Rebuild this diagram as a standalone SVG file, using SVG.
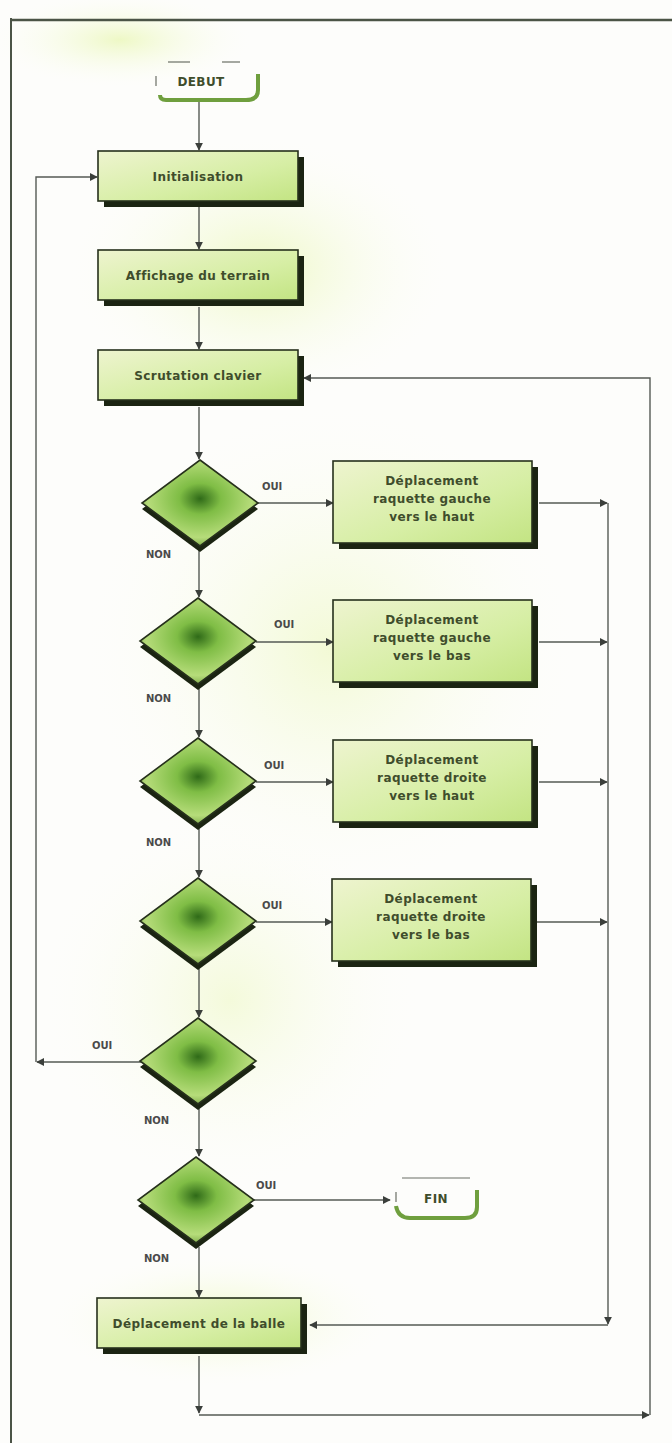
<svg xmlns="http://www.w3.org/2000/svg" width="672" height="1443" viewBox="0 0 672 1443">
  <style>
    .face { stroke: #26301c; stroke-width: 1.6; }
    .shadow { fill: #1b2412; }
    .txt { font-family: "DejaVu Sans", "Liberation Sans", sans-serif; font-weight: bold; font-size: 12px; letter-spacing: 0.4px; fill: #3f4d2c; text-anchor: middle; }
    .lbl { font-family: "DejaVu Sans", "Liberation Sans", sans-serif; font-weight: bold; font-size: 10px; fill: #4a4a4a; }
    .wire { fill: none; stroke: #555a55; stroke-width: 1.4; }
    .frame { fill: none; stroke: #4b5446; }
  </style>
  <defs>
    <linearGradient id="boxFill" x1="0" y1="0" x2="1" y2="1">
      <stop offset="0" stop-color="#eef4cf"/>
      <stop offset="0.6" stop-color="#d6eea4"/>
      <stop offset="1" stop-color="#c3e483"/>
    </linearGradient>
    <radialGradient id="diaFill" cx="0.5" cy="0.45" r="0.6">
      <stop offset="0" stop-color="#2f6a18"/>
      <stop offset="0.3" stop-color="#7fbd45"/>
      <stop offset="0.75" stop-color="#b6dc7a"/>
      <stop offset="1" stop-color="#6f9d3c"/>
    </radialGradient>
    <radialGradient id="haze" cx="0.5" cy="0.5" r="0.5">
      <stop offset="0" stop-color="#eaf7b8" stop-opacity="0.8"/>
      <stop offset="1" stop-color="#ffffff" stop-opacity="0"/>
    </radialGradient>
    <marker id="arr" viewBox="0 0 10 10" refX="9" refY="5" markerWidth="8" markerHeight="8" orient="auto" markerUnits="userSpaceOnUse">
      <path d="M0,0 L10,5 L0,10 z" fill="#3b3f3b"/>
    </marker>
  </defs>

  <!-- paper and soft tint -->
  <rect width="672" height="1443" fill="#fdfdfb"/>
  <ellipse cx="120" cy="40" rx="140" ry="50" fill="url(#haze)"/>
  <ellipse cx="260" cy="270" rx="200" ry="140" fill="url(#haze)"/>
  <ellipse cx="330" cy="650" rx="260" ry="260" fill="url(#haze)" opacity="0.7"/>
  <ellipse cx="230" cy="1000" rx="200" ry="200" fill="url(#haze)" opacity="0.6"/>
  <ellipse cx="220" cy="1320" rx="180" ry="70" fill="url(#haze)"/>

  <!-- page frame -->
  <line class="frame" x1="11" y1="20" x2="672" y2="20" stroke-width="2.5"/>
  <line class="frame" x1="11" y1="18" x2="11" y2="1443" stroke-width="2"/>

  <!-- connectors -->
  <g id="connectors">
    <line class="wire" x1="199" y1="102" x2="199" y2="150" marker-end="url(#arr)"/>
    <line class="wire" x1="199" y1="207" x2="199" y2="249" marker-end="url(#arr)"/>
    <line class="wire" x1="199" y1="307" x2="199" y2="349" marker-end="url(#arr)"/>
    <line class="wire" x1="199" y1="407" x2="199" y2="459" marker-end="url(#arr)"/>
    <line class="wire" x1="199" y1="549" x2="199" y2="597" marker-end="url(#arr)"/>
    <line class="wire" x1="199" y1="689" x2="199" y2="737" marker-end="url(#arr)"/>
    <line class="wire" x1="199" y1="829" x2="199" y2="877" marker-end="url(#arr)"/>
    <line class="wire" x1="199" y1="969" x2="199" y2="1017" marker-end="url(#arr)"/>
    <line class="wire" x1="199" y1="1109" x2="199" y2="1156" marker-end="url(#arr)"/>
    <line class="wire" x1="199" y1="1247" x2="199" y2="1297" marker-end="url(#arr)"/>

    <!-- OUI branches to the paddle moves -->
    <line class="wire" x1="258" y1="503" x2="333" y2="503" marker-end="url(#arr)"/>
    <line class="wire" x1="256" y1="642" x2="333" y2="642" marker-end="url(#arr)"/>
    <line class="wire" x1="256" y1="782" x2="333" y2="782" marker-end="url(#arr)"/>
    <line class="wire" x1="256" y1="922" x2="332" y2="922" marker-end="url(#arr)"/>

    <!-- paddle moves join the collector line -->
    <line class="wire" x1="539" y1="503" x2="607" y2="503" marker-end="url(#arr)"/>
    <line class="wire" x1="539" y1="642" x2="607" y2="642" marker-end="url(#arr)"/>
    <line class="wire" x1="539" y1="782" x2="607" y2="782" marker-end="url(#arr)"/>
    <line class="wire" x1="537" y1="922" x2="607" y2="922" marker-end="url(#arr)"/>
    <line class="wire" x1="608" y1="503" x2="608" y2="1324" marker-end="url(#arr)"/>
    <line class="wire" x1="608" y1="1325" x2="310" y2="1325" marker-end="url(#arr)"/>

    <!-- back to initialisation -->
    <polyline class="wire" points="142,1062 37,1062" marker-end="url(#arr)"/>
    <polyline class="wire" points="36,1062 36,177 97,177" marker-end="url(#arr)"/>

    <!-- to end -->
    <line class="wire" x1="254" y1="1200" x2="390" y2="1200" marker-end="url(#arr)"/>

    <!-- main loop back to keyboard scan -->
    <line class="wire" x1="199" y1="1356" x2="199" y2="1413" marker-end="url(#arr)"/>
    <line class="wire" x1="199" y1="1415" x2="649" y2="1415" marker-end="url(#arr)"/>
    <polyline class="wire" points="650,1415 650,378 304,378" marker-end="url(#arr)"/>

    <!-- branch labels -->
    <text class="lbl" x="262" y="490">OUI</text>
    <text class="lbl" x="146" y="558">NON</text>
    <text class="lbl" x="274" y="628">OUI</text>
    <text class="lbl" x="146" y="702">NON</text>
    <text class="lbl" x="264" y="769">OUI</text>
    <text class="lbl" x="146" y="846">NON</text>
    <text class="lbl" x="262" y="909">OUI</text>
    <text class="lbl" x="92" y="1049">OUI</text>
    <text class="lbl" x="144" y="1124">NON</text>
    <text class="lbl" x="256" y="1189">OUI</text>
    <text class="lbl" x="144" y="1262">NON</text>
  </g>

  <!-- start terminal -->
  <g id="debut">
    <line x1="168" y1="62" x2="190" y2="62" stroke="#6b6f66" stroke-width="1.2"/>
    <line x1="222" y1="62" x2="240" y2="62" stroke="#6b6f66" stroke-width="1.2"/>
    <line x1="156" y1="76" x2="156" y2="86" stroke="#6b6f66" stroke-width="1.2"/>
    <path d="M258,74 V90 Q258,100 246,100 H166 Q160,100 160,95" fill="none" stroke="#6f9f3e" stroke-width="4"/>
    <text class="txt" x="201" y="86" font-size="11">DEBUT</text>
  </g>

  <!-- process boxes -->
  <g id="init">
    <rect class="shadow" x="104" y="157" width="200" height="50"/>
    <rect class="face" x="98" y="151" width="200" height="50" fill="url(#boxFill)"/>
    <text class="txt" x="198" y="181">Initialisation</text>
  </g>
  <g id="affichage">
    <rect class="shadow" x="104" y="256" width="200" height="50"/>
    <rect class="face" x="98" y="250" width="200" height="50" fill="url(#boxFill)"/>
    <text class="txt" x="198" y="280">Affichage du terrain</text>
  </g>
  <g id="scrutation">
    <rect class="shadow" x="104" y="356" width="200" height="50"/>
    <rect class="face" x="98" y="350" width="200" height="50" fill="url(#boxFill)"/>
    <text class="txt" x="198" y="380">Scrutation clavier</text>
  </g>

  <!-- decisions -->
  <g id="d1">
    <polygon class="shadow" points="200,466 258,509 200,552 142,509"/>
    <polygon class="face" points="200,460 258,503 200,546 142,503" fill="url(#diaFill)"/>
  </g>
  <g id="d2">
    <polygon class="shadow" points="198,604 256,647 198,690 140,647"/>
    <polygon class="face" points="198,598 256,641 198,684 140,641" fill="url(#diaFill)"/>
  </g>
  <g id="d3">
    <polygon class="shadow" points="198,744 256,787 198,830 140,787"/>
    <polygon class="face" points="198,738 256,781 198,824 140,781" fill="url(#diaFill)"/>
  </g>
  <g id="d4">
    <polygon class="shadow" points="198,884 256,927 198,970 140,927"/>
    <polygon class="face" points="198,878 256,921 198,964 140,921" fill="url(#diaFill)"/>
  </g>
  <g id="d5">
    <polygon class="shadow" points="198,1024 256,1067 198,1110 140,1067"/>
    <polygon class="face" points="198,1018 256,1061 198,1104 140,1061" fill="url(#diaFill)"/>
  </g>
  <g id="d6">
    <polygon class="shadow" points="196,1163 254,1206 196,1249 138,1206"/>
    <polygon class="face" points="196,1157 254,1200 196,1243 138,1200" fill="url(#diaFill)"/>
  </g>

  <!-- paddle moves -->
  <g id="move1">
    <rect class="shadow" x="339" y="467" width="199" height="82"/>
    <rect class="face" x="333" y="461" width="199" height="82" fill="url(#boxFill)"/>
    <text class="txt" x="432" y="485">Déplacement</text>
    <text class="txt" x="432" y="503">raquette gauche</text>
    <text class="txt" x="432" y="521">vers le haut</text>
  </g>
  <g id="move2">
    <rect class="shadow" x="339" y="606" width="199" height="82"/>
    <rect class="face" x="333" y="600" width="199" height="82" fill="url(#boxFill)"/>
    <text class="txt" x="432" y="624">Déplacement</text>
    <text class="txt" x="432" y="642">raquette gauche</text>
    <text class="txt" x="432" y="660">vers le bas</text>
  </g>
  <g id="move3">
    <rect class="shadow" x="339" y="746" width="199" height="82"/>
    <rect class="face" x="333" y="740" width="199" height="82" fill="url(#boxFill)"/>
    <text class="txt" x="432" y="764">Déplacement</text>
    <text class="txt" x="432" y="782">raquette droite</text>
    <text class="txt" x="432" y="800">vers le haut</text>
  </g>
  <g id="move4">
    <rect class="shadow" x="338" y="885" width="199" height="82"/>
    <rect class="face" x="332" y="879" width="199" height="82" fill="url(#boxFill)"/>
    <text class="txt" x="431" y="903">Déplacement</text>
    <text class="txt" x="431" y="921">raquette droite</text>
    <text class="txt" x="431" y="939">vers le bas</text>
  </g>

  <!-- end terminal -->
  <g id="fin">
    <line x1="402" y1="1178" x2="470" y2="1178" stroke="#6b6f66" stroke-width="1.2"/>
    <line x1="396" y1="1192" x2="396" y2="1202" stroke="#6b6f66" stroke-width="1.2"/>
    <path d="M477,1190 V1207 Q477,1218 465,1218 H410 Q398,1218 396,1206" fill="none" stroke="#6f9f3e" stroke-width="4"/>
    <text class="txt" x="436" y="1203" font-size="11">FIN</text>
  </g>

  <!-- ball move -->
  <g id="balle">
    <rect class="shadow" x="103" y="1304" width="204" height="50"/>
    <rect class="face" x="97" y="1298" width="204" height="50" fill="url(#boxFill)"/>
    <text class="txt" x="199" y="1328">Déplacement de la balle</text>
  </g>
</svg>
